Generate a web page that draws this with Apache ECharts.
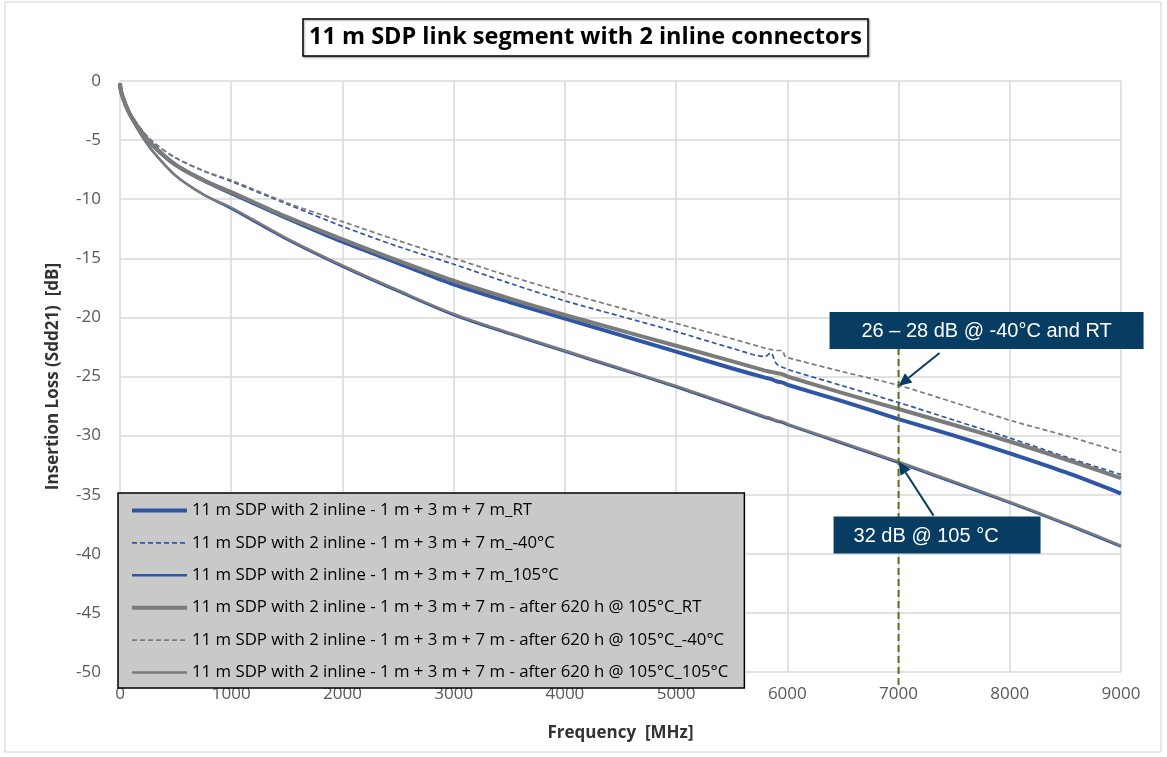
<!DOCTYPE html>
<html>
<head>
<meta charset="utf-8">
<script src="https://cdn.jsdelivr.net/npm/echarts@6/dist/echarts.min.js"></script>
<style>
  html, body { margin: 0; padding: 0; background: #fff; }
  #main { width: 1167px; height: 757px; }
</style>
</head>
<body>
<div id="main"></div>
<script>
// 频率点 (MHz)
var freq = [0, 10, 50, 100, 200, 300, 500, 750, 1000, 1500, 2000, 2500, 3000, 3500, 4000, 4500,
            5000, 5500, 5800, 5850, 5900, 5950, 5980, 6000, 6500, 7000, 7500, 8000, 8500, 9000];

// Insertion loss (dB)
var blueRT  = [-0.2, -0.9, -2.0, -3.0, -4.4, -5.5, -7.1, -8.4, -9.5, -11.6, -13.6, -15.4, -17.2, -18.7, -20.1, -21.5,
               -22.9, -24.3, -25.1, -25.2, -25.4, -25.5, -25.6, -25.7, -27.1, -28.6, -30.0, -31.5, -33.1, -34.9];
var blue40  = [-0.2, -0.9, -2.0, -2.9, -4.2, -5.2, -6.5, -7.6, -8.5, -10.4, -12.3, -14.0, -15.5, -17.1, -18.6, -19.9,
               -21.2, -22.6, -23.3, -23.0, -23.9, -24.2, -24.3, -24.4, -25.8, -27.2, -28.7, -30.2, -31.8, -33.3];
var blue105 = [-0.2, -0.9, -2.1, -3.1, -4.7, -6.0, -8.0, -9.6, -10.8, -13.4, -15.7, -17.8, -19.8, -21.4, -22.9, -24.4,
               -25.9, -27.5, -28.5, -28.6, -28.8, -28.9, -29.0, -29.1, -30.7, -32.3, -34.0, -35.7, -37.5, -39.4];
var grayRT  = [-0.2, -0.9, -2.0, -3.0, -4.4, -5.5, -7.1, -8.4, -9.4, -11.5, -13.4, -15.2, -16.9, -18.4, -19.8, -21.1,
               -22.4, -23.7, -24.5, -24.6, -24.7, -24.8, -24.9, -25.0, -26.4, -27.75, -29.1, -30.5, -32.0, -33.6];
var gray40  = [-0.2, -0.9, -2.0, -2.9, -4.2, -5.2, -6.5, -7.6, -8.4, -10.3, -11.9, -13.5, -15.0, -16.5, -17.9, -19.2,
               -20.5, -21.8, -22.6, -22.7, -22.8, -22.8, -23.3, -23.4, -24.6, -25.75, -27.2, -28.7, -30.0, -31.4];
var gray105 = [-0.2, -0.9, -2.1, -3.1, -4.7, -6.0, -8.0, -9.6, -10.7, -13.3, -15.6, -17.7, -19.7, -21.3, -22.8, -24.3,
               -25.8, -27.4, -28.4, -28.5, -28.7, -28.8, -28.9, -29.0, -30.6, -32.2, -33.9, -35.6, -37.4, -39.3];

var seriesNames = [
    '11 m SDP with 2 inline - 1 m + 3 m + 7 m_RT',
    '11 m SDP with 2 inline - 1 m + 3 m + 7 m_-40°C',
    '11 m SDP with 2 inline - 1 m + 3 m + 7 m_105°C',
    '11 m SDP with 2 inline - 1 m + 3 m + 7 m - after 620 h @ 105°C_RT',
    '11 m SDP with 2 inline - 1 m + 3 m + 7 m - after 620 h @ 105°C_-40°C',
    '11 m SDP with 2 inline - 1 m + 3 m + 7 m - after 620 h @ 105°C_105°C'
];

// 标注
var markFreq = 7000;
var note1 = '26 – 28 dB @ -40°C and RT';
var note1Val = -25.8;
var note2 = '32 dB @ 105 °C';
var note2Val = -32.2;

function pairs(vals) {
    return freq.map(function (f, i) { return [f, vals[i]]; });
}

var BLUE = '#2f56a5';
var GRAY = '#7b7b7b';
var FONT = 'Open Sans';

var myChart = echarts.init(document.getElementById('main'));

function mkSeries(name, vals, color, width, type) {
    return {
        name: name,
        type: 'line',
        data: pairs(vals),
        symbol: 'none',
        smooth: 0.3,
        lineStyle: { color: color, width: width, type: type },
        itemStyle: { color: color }
    };
}

var option = {
    backgroundColor: '#fff',
    animation: false,
    title: {
        text: '11 m SDP link segment with 2 inline connectors',
        left: 303,
        top: 19,
        padding: [6, 6, 7, 6],
        borderColor: '#000',
        borderWidth: 1.5,
        shadowColor: 'rgba(0,0,0,0.35)',
        shadowBlur: 2,
        shadowOffsetX: 1,
        shadowOffsetY: 1,
        backgroundColor: '#fff',
        textStyle: { fontFamily: FONT, fontSize: 23.5, fontWeight: 'bold', color: '#000' }
    },
    grid: { left: 120, right: 46, top: 81, bottom: 85 },
    legend: {
        orient: 'vertical',
        left: 118,
        top: 493,
        backgroundColor: '#c9c9c9',
        borderColor: '#000',
        borderWidth: 1.5,
        padding: [9, 16, 7, 12],
        itemWidth: 55,
        itemHeight: 14,
        itemGap: 15.4,
        itemStyle: { opacity: 0 },
        lineStyle: { width: 'inherit' },
        textStyle: { fontFamily: FONT, fontSize: 16.8, color: '#000', lineHeight: 14 },
        data: seriesNames
    },
    xAxis: {
        type: 'value',
        min: 0,
        max: 9000,
        interval: 1000,
        name: 'Frequency  [MHz]',
        nameLocation: 'middle',
        nameGap: 53,
        nameTextStyle: { fontFamily: FONT, fontSize: 17, fontWeight: 'bold', color: '#333' },
        axisLine: { show: false },
        axisTick: { show: false },
        axisLabel: { fontFamily: FONT, fontSize: 17, color: '#595959', margin: 14, formatter: function (v) { return String(v); } },
        splitLine: { lineStyle: { color: '#d9d9d9', width: 1.5 } }
    },
    yAxis: {
        type: 'value',
        min: -50,
        max: 0,
        interval: 5,
        name: 'Insertion Loss (Sdd21)  [dB]',
        nameLocation: 'middle',
        nameGap: 58,
        nameTextStyle: { fontFamily: FONT, fontSize: 17, fontWeight: 'bold', color: '#333' },
        axisLine: { show: false },
        axisTick: { show: false },
        axisLabel: { fontFamily: FONT, fontSize: 17, color: '#595959', margin: 19, formatter: function (v) { return String(v); } },
        splitLine: { lineStyle: { color: '#d9d9d9', width: 1.5 } }
    },
    series: [
        mkSeries(seriesNames[0], blueRT, BLUE, 4, 'solid'),
        mkSeries(seriesNames[1], blue40, BLUE, 1.7, [5, 3]),
        mkSeries(seriesNames[2], blue105, BLUE, 2.4, 'solid'),
        mkSeries(seriesNames[3], grayRT, GRAY, 4, 'solid'),
        mkSeries(seriesNames[4], gray40, GRAY, 1.7, [5, 3]),
        mkSeries(seriesNames[5], gray105, GRAY, 2.4, 'solid')
    ]
};

myChart.setOption(option);

// 注释：竖线、箭头、文本框
var NAVY = '#073d62';
var tip1 = myChart.convertToPixel({ gridIndex: 0 }, [markFreq, note1Val]);
var tip2 = myChart.convertToPixel({ gridIndex: 0 }, [markFreq, note2Val]);
var yBottom = myChart.convertToPixel({ gridIndex: 0 }, [markFreq, -50]);

function arrow(tip, dx, dy) {
    var sx = tip[0] + dx, sy = tip[1] + dy;
    var len = Math.sqrt(dx * dx + dy * dy);
    var ux = -dx / len, uy = -dy / len;
    var hl = 13, hw = 6;
    var bx = tip[0] - ux * hl, by = tip[1] - uy * hl;
    return [
        { type: 'line', shape: { x1: sx, y1: sy, x2: bx, y2: by }, style: { stroke: NAVY, lineWidth: 2 }, z: 20 },
        { type: 'polygon', shape: { points: [[tip[0], tip[1]], [bx - uy * hw, by + ux * hw], [bx + uy * hw, by - ux * hw]] },
          style: { fill: NAVY }, z: 20 }
    ];
}

var graphics = [
    { type: 'rect', shape: { x: 5, y: 2, width: 1156, height: 750 }, style: { fill: null, stroke: '#d0d0d0', lineWidth: 1 }, z: -1, silent: true },
    { type: 'line', shape: { x1: tip1[0], y1: tip1[1] - 38, x2: tip1[0], y2: yBottom[1] + 16 },
      style: { stroke: '#5c7020', lineWidth: 2, lineDash: [7, 4] }, z: 15 },
    { type: 'rect', shape: { x: tip1[0] - 69, y: tip1[1] - 74, width: 314, height: 37 }, style: { fill: NAVY }, z: 21 },
    { type: 'text', x: tip1[0] - 69 + 157, y: tip1[1] - 74 + 20,
      style: { text: note1, fill: '#fff', font: '20px "Liberation Sans", Arial', align: 'center', verticalAlign: 'middle' }, z: 22 },
    { type: 'rect', shape: { x: tip2[0] - 65, y: tip2[1] + 55, width: 207, height: 37 }, style: { fill: NAVY }, z: 21 },
    { type: 'text', x: tip2[0] - 45, y: tip2[1] + 55 + 20,
      style: { text: note2, fill: '#fff', font: '20px "Liberation Sans", Arial', align: 'left', verticalAlign: 'middle' }, z: 22 }
].concat(arrow(tip1, 41, -33)).concat(arrow(tip2, 35, 54));

myChart.setOption({ graphic: graphics });
</script>
</body>
</html>
